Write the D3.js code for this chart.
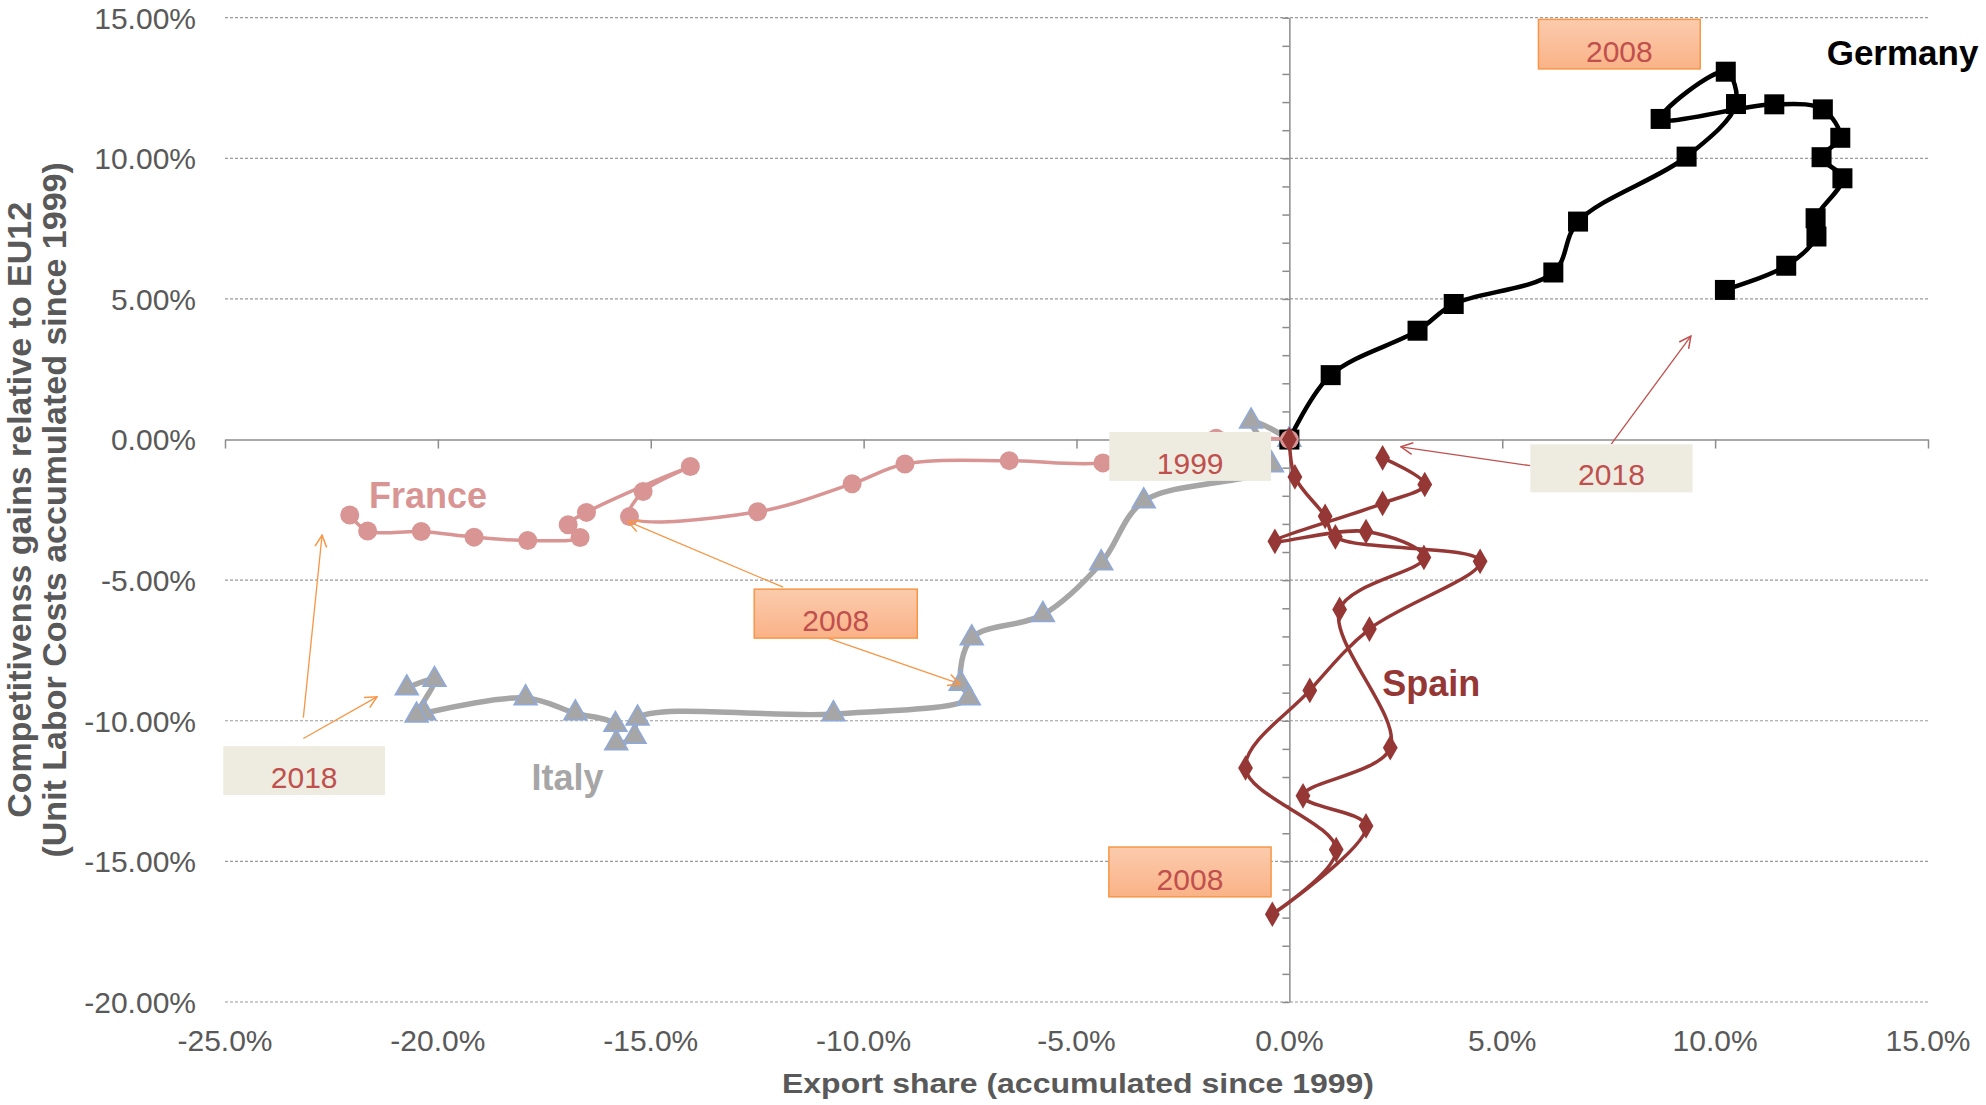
<!DOCTYPE html>
<html><head><meta charset="utf-8">
<script src="https://cdn.jsdelivr.net/npm/d3@7"></script>
<style>html,body{margin:0;padding:0;background:#fff;} svg{display:block;font-family:Arial,"Liberation Sans",sans-serif;}</style>
</head><body><svg id="chart" width="1986" height="1105"></svg>
<script>
// ---- data (x = export share %, y = competitiveness gains %) ----
const xTickValues = [-25, -20, -15, -10, -5, 0, 5, 10, 15];
const yTickValues = [15, 10, 5, 0, -5, -10, -15, -20];
const germany = [[0,0],[0.97,2.29],[3.01,3.87],[3.86,4.82],[6.20,5.94],[6.78,7.75],[9.33,10.06],[10.49,11.93],[10.25,13.08],[8.72,11.40],[11.39,11.92],[12.53,11.74],[12.94,10.73],[12.50,10.04],[12.99,9.29],[12.36,7.87],[12.38,7.22],[11.67,6.18],[10.23,5.32]];
const france = [[0,0],[-1.72,0.05],[-4.38,-0.83],[-6.58,-0.75],[-9.03,-0.87],[-10.27,-1.57],[-12.49,-2.57],[-15.50,-2.74],[-15.18,-1.85],[-14.07,-0.96],[-16.51,-2.59],[-16.94,-3.03],[-16.66,-3.48],[-17.89,-3.59],[-19.15,-3.47],[-20.39,-3.27],[-21.65,-3.25],[-22.07,-2.68]];
const italy = [[0,0],[-0.90,0.65],[-0.41,-0.91],[-3.42,-2.19],[-4.42,-4.39],[-5.79,-6.23],[-7.46,-7.06],[-7.72,-8.68],[-7.53,-9.19],[-10.71,-9.76],[-15.31,-9.91],[-15.38,-10.56],[-15.81,-10.79],[-15.83,-10.14],[-16.77,-9.73],[-17.94,-9.19],[-20.32,-9.73],[-20.50,-9.81],[-20.08,-8.54],[-20.73,-8.84]];
const spain = [[0,0],[0.13,-1.33],[0.84,-2.73],[1.08,-3.46],[4.48,-4.33],[1.88,-6.74],[0.48,-8.92],[-1.03,-11.68],[1.10,-14.58],[-0.40,-16.88],[1.80,-13.74],[0.32,-12.67],[2.37,-10.96],[1.18,-6.04],[3.16,-4.19],[1.80,-3.27],[-0.34,-3.62],[2.19,-2.27],[3.18,-1.60],[2.19,-0.65]];
const seriesNames = ["Italy", "Germany", "France", "Spain"];

// ---- annotations (positions in data units) ----
const boxes = [
  {text:"1999", x0:-4.23, x1:-0.43, y0:0.27,   y1:-1.47,  style:"plain"},
  {text:"2008", x0:5.85,  x1:9.65,  y0:14.94,  y1:13.18,  style:"orange"},
  {text:"2008", x0:-12.57,x1:-8.74, y0:-5.32,  y1:-7.06,  style:"orange"},
  {text:"2008", x0:-4.24, x1:-0.43, y0:-14.49, y1:-16.26, style:"orange"},
  {text:"2018", x0:5.66,  x1:9.47,  y0:-0.17,  y1:-1.88,  style:"plain"},
  {text:"2018", x0:-25.04,x1:-21.24,y0:-10.9,  y1:-12.64, style:"plain"}
];
const arrows = [
  {from:[7.56,-0.16],  to:[9.43,3.68],    color:"#C0504D"},
  {from:[5.66,-0.93],  to:[2.62,-0.26],   color:"#C0504D"},
  {from:[-11.89,-5.25],to:[-15.53,-2.92], color:"#F79646"},
  {from:[-10.84,-7.06],to:[-7.74,-8.69],  color:"#F79646"},
  {from:[-23.16,-9.89],to:[-22.72,-3.40], color:"#F79646"},
  {from:[-23.16,-10.63],to:[-21.43,-9.15],color:"#F79646"}
];
const seriesLabels = [
  {text:"Germany", at:[12.62, 13.32], color:"#000000", size:35},
  {text:"France",  at:[-21.62, -2.45], color:"#D99594", size:36},
  {text:"Italy",   at:[-17.80, -12.46], color:"#A6A6A6", size:36},
  {text:"Spain",   at:[2.18, -9.12], color:"#953735", size:36}
];

const svg = d3.select("#chart");
const x = d3.scaleLinear().domain([-25, 15]).range([225, 1928]);
const y = d3.scaleLinear().domain([-20, 15]).range([1002, 17.7]);
const hy = s => s.replace(/\u2212/g, "-");

// defs
const defs = svg.append("defs");
const grad = defs.append("linearGradient").attr("id","og").attr("x1",0).attr("y1",0).attr("x2",0).attr("y2",1);
grad.append("stop").attr("offset","0%").attr("stop-color","#FBCBAD");
grad.append("stop").attr("offset","100%").attr("stop-color","#FAB287");
["C0504D","F79646"].forEach(c => {
  defs.append("marker").attr("id","ah"+c).attr("viewBox","0 0 12 12").attr("refX",11).attr("refY",6)
    .attr("markerWidth",14).attr("markerHeight",14).attr("markerUnits","userSpaceOnUse").attr("orient","auto")
    .append("path").attr("d","M1,1 L11,6 L1,11").attr("fill","none").attr("stroke","#"+c).attr("stroke-width",1.3);
});

// gridlines
svg.append("g").selectAll("line").data(yTickValues.filter(d => d !== 0)).join("line")
  .attr("x1", x(-25)).attr("x2", x(15)).attr("y1", d => y(d)).attr("y2", d => y(d))
  .attr("stroke","#9a9a9a").attr("stroke-width",1.2).attr("stroke-dasharray","3,2");

// y axis at x=0 with minor ticks
const yAxis = svg.append("g").attr("transform",`translate(${x(0)},0)`)
  .call(d3.axisLeft(y).tickValues(d3.range(-20, 15.001, 1)).tickSize(7).tickSizeOuter(0).tickFormat(""));
yAxis.selectAll("path,line").attr("stroke","#8c8c8c").attr("stroke-width",1.5);

// x axis at y=0
const xAxis = svg.append("g").attr("transform",`translate(0,${y(0)})`)
  .call(d3.axisBottom(x).tickValues(xTickValues).tickSize(9).tickSizeOuter(0).tickFormat(""));
xAxis.selectAll("path,line").attr("stroke","#8c8c8c").attr("stroke-width",1.5);

// tick labels
svg.append("g").selectAll("text").data(yTickValues).join("text")
  .attr("x", 196).attr("y", d => y(d)).attr("dy","0.36em").attr("text-anchor","end")
  .attr("font-size",30).attr("fill","#595959").text(d => hy(d3.format(".2f")(d)) + "%");
svg.append("g").selectAll("text").data(xTickValues).join("text")
  .attr("x", d => x(d)).attr("y", 1051).attr("text-anchor","middle")
  .attr("font-size",30).attr("fill","#595959").text(d => hy(d3.format(".1f")(d)) + "%");

// axis titles
svg.append("text").attr("x", 782).attr("y", 1093)
  .attr("textLength", 592).attr("lengthAdjust","spacingAndGlyphs")
  .attr("font-size",28).attr("font-weight","bold").attr("fill","#595959").text("Export share (accumulated since 1999)");
const yt = svg.append("text").attr("transform",`translate(0,${(y(15)+y(-20))/2}) rotate(-90)`)
  .attr("text-anchor","middle").attr("font-size",34).attr("font-weight","bold").attr("fill","#595959");
yt.append("tspan").attr("x",0).attr("y",31).text("Competitivenss gains relative to EU12");
yt.append("tspan").attr("x",0).attr("y",66).text("(Unit Labor Costs accumulated since 1999)");

// series
const line = d3.line().x(d => x(d[0])).y(d => y(d[1])).curve(d3.curveCatmullRom.alpha(0.5));
const cfg = {
  Germany:{data:germany, color:"#000000", w:4.5},
  Italy:{data:italy, color:"#A6A6A6", w:5.5},
  France:{data:france, color:"#D99594", w:3.5},
  Spain:{data:spain, color:"#953735", w:3.5}
};
seriesNames.forEach(name => {
  const c = cfg[name];
  const g = svg.append("g");
  g.append("path").attr("d", line(c.data)).attr("fill","none").attr("stroke",c.color).attr("stroke-width",c.w).attr("stroke-linejoin","round");
  if (name === "Germany") {
    g.selectAll("rect").data(c.data).join("rect").attr("x", d => x(d[0])-10).attr("y", d => y(d[1])-10)
      .attr("width",20).attr("height",20).attr("fill","#000");
  } else if (name === "France") {
    g.selectAll("circle").data(c.data).join("circle").attr("cx", d => x(d[0])).attr("cy", d => y(d[1]))
      .attr("r",9.5).attr("fill","#D99594");
  } else if (name === "Italy") {
    const tri = d3.symbol().type(d3.symbolTriangle).size(230);
    g.selectAll("path.m").data(c.data).join("path").attr("class","m").attr("d", tri)
      .attr("transform", d => `translate(${x(d[0])},${y(d[1])})`).attr("fill","#A6A6A6").attr("stroke","#8EA9DB").attr("stroke-width",1.5);
  } else {
    const dia = d3.symbol().type(d3.symbolDiamond).size(190);
    g.selectAll("path.m").data(c.data).join("path").attr("class","m").attr("d", dia)
      .attr("transform", d => `translate(${x(d[0])},${y(d[1])})`).attr("fill","#953735");
  }
});

// series labels
svg.append("g").selectAll("text").data(seriesLabels).join("text")
  .attr("x", d => x(d.at[0])).attr("y", d => y(d.at[1]))
  .attr("font-size", d => d.size).attr("font-weight","bold").attr("fill", d => d.color).text(d => d.text);

// arrows
svg.append("g").selectAll("line").data(arrows).join("line")
  .attr("x1", d => x(d.from[0])).attr("y1", d => y(d.from[1]))
  .attr("x2", d => x(d.to[0])).attr("y2", d => y(d.to[1]))
  .attr("stroke", d => d.color).attr("stroke-width",1.3)
  .attr("marker-end", d => `url(#ah${d.color.slice(1)})`);

// boxes
const bg = svg.append("g").selectAll("g").data(boxes).join("g");
bg.append("rect").attr("x", d => x(d.x0)).attr("y", d => y(d.y0))
  .attr("width", d => x(d.x1)-x(d.x0)).attr("height", d => y(d.y1)-y(d.y0))
  .attr("fill", d => d.style === "orange" ? "url(#og)" : "#EEECE1")
  .attr("stroke", d => d.style === "orange" ? "#F79646" : "none").attr("stroke-width",1.5);
bg.append("text").attr("x", d => (x(d.x0)+x(d.x1))/2).attr("y", d => y(d.y1) - 7)
  .attr("text-anchor","middle").attr("font-size",30).attr("fill","#C0504D").text(d => d.text);
</script></body></html>
